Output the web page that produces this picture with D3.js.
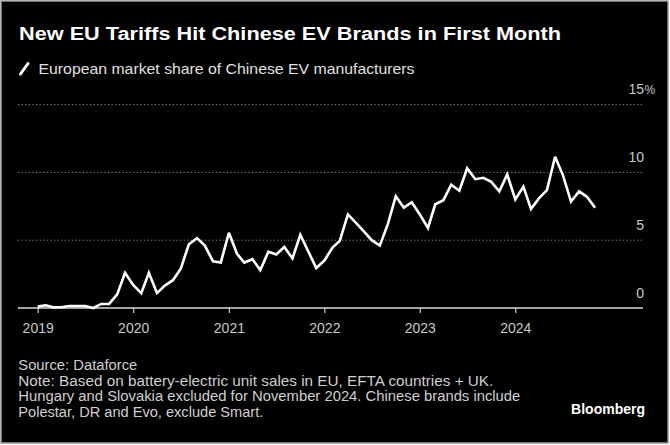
<!DOCTYPE html>
<html>
<head>
<meta charset="utf-8">
<script src="https://cdn.jsdelivr.net/npm/d3@7/dist/d3.min.js"></script>
<style>
  html, body { margin: 0; padding: 0; background: #ffffff; }
  svg { display: block; }
  text { font-family: "Liberation Sans", Arial, sans-serif; }
</style>
</head>
<body>
<svg id="chart" width="670" height="445"></svg>
<script>
// ---- Data (European market share of Chinese EV manufacturers, %, monthly Jan 2019 – Nov 2024)
const startYear = 2019;
const startMonth = 0; // January
const share2019 = [0.1, 0.2, 0.05, 0.05, 0.15, 0.15, 0.15, 0.0, 0.3, 0.3, 1.0, 2.6];
const share2020 = [1.7, 1.1, 2.6, 1.1, 1.65, 2.05, 2.9, 4.7, 5.15, 4.6, 3.45, 3.35];
const share2021 = [5.55, 4.0, 3.35, 3.6, 2.8, 4.15, 3.95, 4.5, 3.65, 5.4, 4.15, 2.95];
const share2022 = [3.5, 4.45, 4.95, 6.9, 6.3, 5.65, 5.0, 4.6, 6.2, 8.25, 7.4, 7.8];
const share2023 = [6.9, 5.9, 7.65, 7.95, 9.1, 8.65, 10.3, 9.5, 9.6, 9.3, 8.6, 9.85];
const share2024 = [8.0, 8.95, 7.3, 8.1, 8.7, 11.15, 9.8, 7.85, 8.6, 8.2, 7.4];
const yearTicks = [2019, 2020, 2021, 2022, 2023, 2024];
const yTicks = [0, 5, 10, 15];

const titleText = "New EU Tariffs Hit Chinese EV Brands in First Month";
const subtitleText = "European market share of Chinese EV manufacturers";
const footerLines = [
  "Source: Dataforce",
  "Note: Based on battery-electric unit sales in EU, EFTA countries + UK.",
  "Hungary and Slovakia excluded for November 2024. Chinese brands include",
  "Polestar, DR and Evo, exclude Smart."
];

const values = [].concat(share2019, share2020, share2021, share2022, share2023, share2024);
const data = values.map((v, i) => ({ date: new Date(startYear, startMonth + i, 1), value: v }));

const svg = d3.select("#chart");
const W = 670, H = 445;

// background + frame
svg.append("rect").attr("x", 1).attr("y", 1).attr("width", W - 3).attr("height", H - 3)
  .attr("fill", "#000").attr("stroke", "#9a9a9a").attr("stroke-width", 1.5);

// scales
const x = d3.scaleTime()
  .domain([new Date(2019, 0, 1), new Date(2024, 0, 1)])
  .range([37.7, 515.3]);
const y = d3.scaleLinear().domain([0, 15]).range([308, 104.6]);
const plotLeft = 18, plotRight = 643;

function fit(sel, target) {
  const n = sel.node();
  const len = n.getComputedTextLength();
  if (Math.abs(len - target) / target > 0.01) {
    sel.attr("textLength", target).attr("lengthAdjust", "spacingAndGlyphs");
  }
}

// title
const t = svg.append("text").attr("x", 19).attr("y", 40)
  .attr("fill", "#fff").attr("font-size", 17.5).attr("font-weight", "bold").text(titleText);
fit(t, 542);

// legend slash + subtitle
svg.append("line").attr("x1", 20.5).attr("y1", 74).attr("x2", 28).attr("y2", 63.5)
  .attr("stroke", "#fff").attr("stroke-width", 3).attr("stroke-linecap", "round");
const st = svg.append("text").attr("x", 38.5).attr("y", 73.5)
  .attr("fill", "#e0e0e0").attr("font-size", 15).text(subtitleText);
fit(st, 376);

// gridlines (dotted)
const gridVals = yTicks.filter(d => d > 0);
svg.append("g").selectAll("line").data(gridVals).join("line")
  .attr("x1", plotLeft).attr("x2", plotRight)
  .attr("y1", d => y(d)).attr("y2", d => y(d))
  .attr("stroke", "#8a8a8a").attr("stroke-width", 1).attr("stroke-dasharray", "1.2,2.4");

// y labels
svg.append("g").selectAll("text").data(yTicks).join("text")
  .attr("x", 644).attr("y", d => y(d) - 10.5)
  .attr("text-anchor", "end").attr("fill", "#c8c8c8").attr("font-size", 14)
  .text(d => d);
svg.append("text").attr("x", 644.5).attr("y", y(15) - 10.5)
  .attr("fill", "#c8c8c8").attr("font-size", 12).text("%");

// x axis
const xAxis = d3.axisBottom(x)
  .tickValues(yearTicks.map(yr => new Date(yr, 0, 1)))
  .tickFormat(d3.timeFormat("%Y"))
  .tickSize(5).tickPadding(10);
const gx = svg.append("g").attr("transform", `translate(0,${y(0)})`).call(xAxis);
gx.select(".domain").remove();
gx.selectAll(".tick line").attr("stroke", "#cfcfcf").attr("stroke-width", 1.2);
gx.selectAll(".tick text").attr("fill", "#c8c8c8").attr("font-size", 14)
  .attr("font-family", "Liberation Sans, Arial, sans-serif").attr("dy", "0.71em");

// baseline
svg.append("line").attr("x1", plotLeft).attr("x2", plotRight)
  .attr("y1", y(0)).attr("y2", y(0)).attr("stroke", "#d8d8d8").attr("stroke-width", 1.3);

// line
const line = d3.line().x(d => x(d.date)).y(d => y(d.value));
svg.append("path").datum(data).attr("d", line)
  .attr("fill", "none").attr("stroke", "#fff").attr("stroke-width", 2.6)
  .attr("stroke-linejoin", "miter").attr("stroke-miterlimit", 3);

// footer
const footerTargets = [119, 475, 502, 245];
const footerY = [369.7, 385.5, 401.2, 417];
footerLines.forEach((s, i) => {
  const ft = svg.append("text").attr("x", 18.3).attr("y", footerY[i])
    .attr("fill", "#cfcfcf").attr("font-size", 14).text(s);
  fit(ft, footerTargets[i]);
});

// Bloomberg logo
const bl = svg.append("text").attr("x", 645).attr("y", 414).attr("text-anchor", "end")
  .attr("fill", "#fff").attr("font-size", 14).attr("font-weight", "bold").text("Bloomberg");
</script>
</body>
</html>
